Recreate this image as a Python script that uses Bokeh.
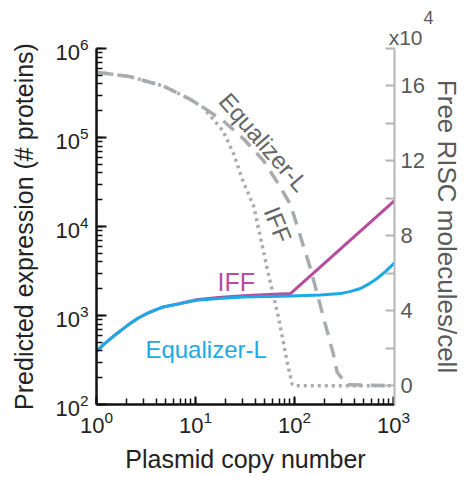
from bokeh.plotting import figure
from bokeh.models import Range1d, LinearAxis, LinearScale, FixedTicker, Label, Title
from bokeh.embed import file_html
from bokeh.resources import INLINE

# ---- data ----
# Predicted expression (left axis, # proteins)
x_iff_expr = [1, 1.2, 1.47, 1.8, 2.17, 2.6, 3.2, 3.9, 4.72, 7, 10.2, 17, 30.3, 55, 91.2, 1025]
iff_expr = [395, 480, 580, 690, 810, 925, 1047, 1150, 1247, 1365, 1500, 1590, 1665, 1720, 1762, 19500]

x_eq_expr = [1, 1.2, 1.47, 1.8, 2.17, 2.6, 3.2, 3.9, 4.72, 7, 10.2, 17, 30.3, 91.2, 183, 292,
             370, 464, 560, 684, 840, 1025]
eq_expr = [395, 480, 580, 690, 810, 925, 1047, 1150, 1247, 1360, 1486, 1556, 1618, 1660, 1700,
           1762, 1866, 2010, 2250, 2606, 3150, 3900]

# Free RISC molecules/cell (right axis, x10^4)
x_iff_risc = [1, 2.17, 4.72, 8.76, 12, 19, 24.4, 30.3, 38.8, 53, 69.4, 84.4, 94.8, 100, 1025]
iff_risc = [16.73, 16.5, 16.0, 15.3, 14.85, 13.6, 12.35, 10.9, 9.58, 6.26, 3.58, 1.26, 0.09, 0, 0]

x_eq_risc = [1, 2.17, 4.72, 8.76, 12, 19, 30.7, 49, 69.4, 91.2, 145, 198, 249, 270, 341, 1025]
eq_risc = [16.73, 16.5, 16.0, 15.3, 14.85, 14.14, 13.17, 11.99, 10.74, 9.67, 6.26, 3.58, 1.62, 0.72, 0.05, 0]

right_major = [0, 4, 8, 12, 16]
right_minor = [2, 6, 10, 14, 18]

FONT = "Liberation Sans"
MAGENTA = "#b64d9f"
BLUE = "#1aaae6"
GREY = "#a9acae"
DGREY = "#5a5a5a"

p = figure(width=466, height=477, x_axis_type="log", y_axis_type="log",
           x_range=Range1d(1, 1025), y_range=Range1d(100, 1e6),
           output_backend="svg", toolbar_location=None,
           min_border_left=96, min_border_right=72, min_border_top=48, min_border_bottom=73)
p.outline_line_color = None
p.grid.visible = False
p.background_fill_color = "white"

p.extra_y_ranges = {"right": Range1d(-1, 18)}
p.extra_y_scales = {"right": LinearScale()}

# left / bottom axes
for ax in (p.xaxis[0], p.yaxis[0]):
    ax.axis_line_color = "#111111"
    ax.axis_line_width = 2.5
    ax.major_tick_line_color = "#111111"
    ax.minor_tick_line_color = "#111111"
    ax.major_tick_line_width = 2
    ax.minor_tick_line_width = 1.5
    ax.major_tick_out = 0
    ax.minor_tick_out = 0
    ax.major_label_text_font = FONT
    ax.major_label_text_font_size = "22px"
    ax.major_label_text_color = "#222222"
    ax.axis_label_text_font = FONT
    ax.axis_label_text_font_size = "25px"
    ax.axis_label_text_font_style = "normal"
    ax.axis_label_text_color = "#222222"

p.yaxis[0].major_tick_in = 10
p.yaxis[0].minor_tick_in = 6
p.xaxis[0].major_tick_in = 8
p.xaxis[0].minor_tick_in = 6
p.yaxis[0].axis_label = "Predicted expression (# proteins)"
p.xaxis[0].axis_label = "Plasmid copy number"
p.yaxis[0].major_label_standoff = 8
p.yaxis[0].axis_label_standoff = 14
p.xaxis[0].major_label_standoff = 6
p.xaxis[0].axis_label_standoff = 9

# right axis
rax = LinearAxis(y_range_name="right",
                 ticker=FixedTicker(ticks=right_major, minor_ticks=right_minor),
                 axis_label="Free RISC molecules/cell")
rax.axis_line_color = "#b3b5b7"
rax.axis_line_width = 2
rax.major_tick_line_color = "#b3b5b7"
rax.minor_tick_line_color = "#b3b5b7"
rax.major_tick_line_width = 2
rax.minor_tick_line_width = 2
rax.major_tick_in = 9
rax.minor_tick_in = 9
rax.major_tick_out = 0
rax.minor_tick_out = 0
rax.major_label_text_font = FONT
rax.major_label_text_font_size = "22px"
rax.major_label_text_color = DGREY
rax.major_label_standoff = 6
rax.axis_label_text_font = FONT
rax.axis_label_text_font_size = "26px"
rax.axis_label_text_font_style = "normal"
rax.axis_label_text_color = DGREY
rax.axis_label_standoff = 4
p.add_layout(rax, "right")

# multiplier of the right axis: "x10" with a raised "4"
# (titles added later sit closer to the frame)
p.title = Title(text="4", align="right", offset=-39, standoff=0,
                text_font=FONT, text_font_size="18px", text_font_style="normal",
                text_color=DGREY)
p.add_layout(Title(text="x10", align="right", offset=-28, standoff=0,
                   text_font=FONT, text_font_size="21px", text_font_style="normal",
                   text_color=DGREY), "above")

# grey RISC curves (right axis)
p.line(x_eq_risc, eq_risc, y_range_name="right", line_color=GREY, line_width=3.5,
       line_dash="14 9")
p.line(x_iff_risc, iff_risc, y_range_name="right", line_color=GREY, line_width=3.5,
       line_dash="3 4")

# expression curves (left axis)
p.line(x_iff_expr, iff_expr, line_color=MAGENTA, line_width=3)
p.line(x_eq_expr, eq_expr, line_color=BLUE, line_width=3)

# in-plot labels
p.add_layout(Label(x=16.7, y=2390, text="IFF", text_color=MAGENTA, text_font=FONT,
                   text_font_size="25px", text_baseline="alphabetic"))
p.add_layout(Label(x=3.12, y=418, text="Equalizer-L", text_color=BLUE, text_font=FONT,
                   text_font_size="24px", text_baseline="alphabetic"))
p.add_layout(Label(x=49, y=13.0, y_range_name="right", text="Equalizer-L",
                   text_color="#666666", text_font=FONT, text_font_size="24px",
                   text_align="center", text_baseline="middle", angle=-0.855))
p.add_layout(Label(x=68, y=8.6, y_range_name="right", text="IFF",
                   text_color="#666666", text_font=FONT, text_font_size="24px",
                   text_align="center", text_baseline="middle", angle=-1.19))

open("out.html", "w").write(file_html(p, INLINE))
